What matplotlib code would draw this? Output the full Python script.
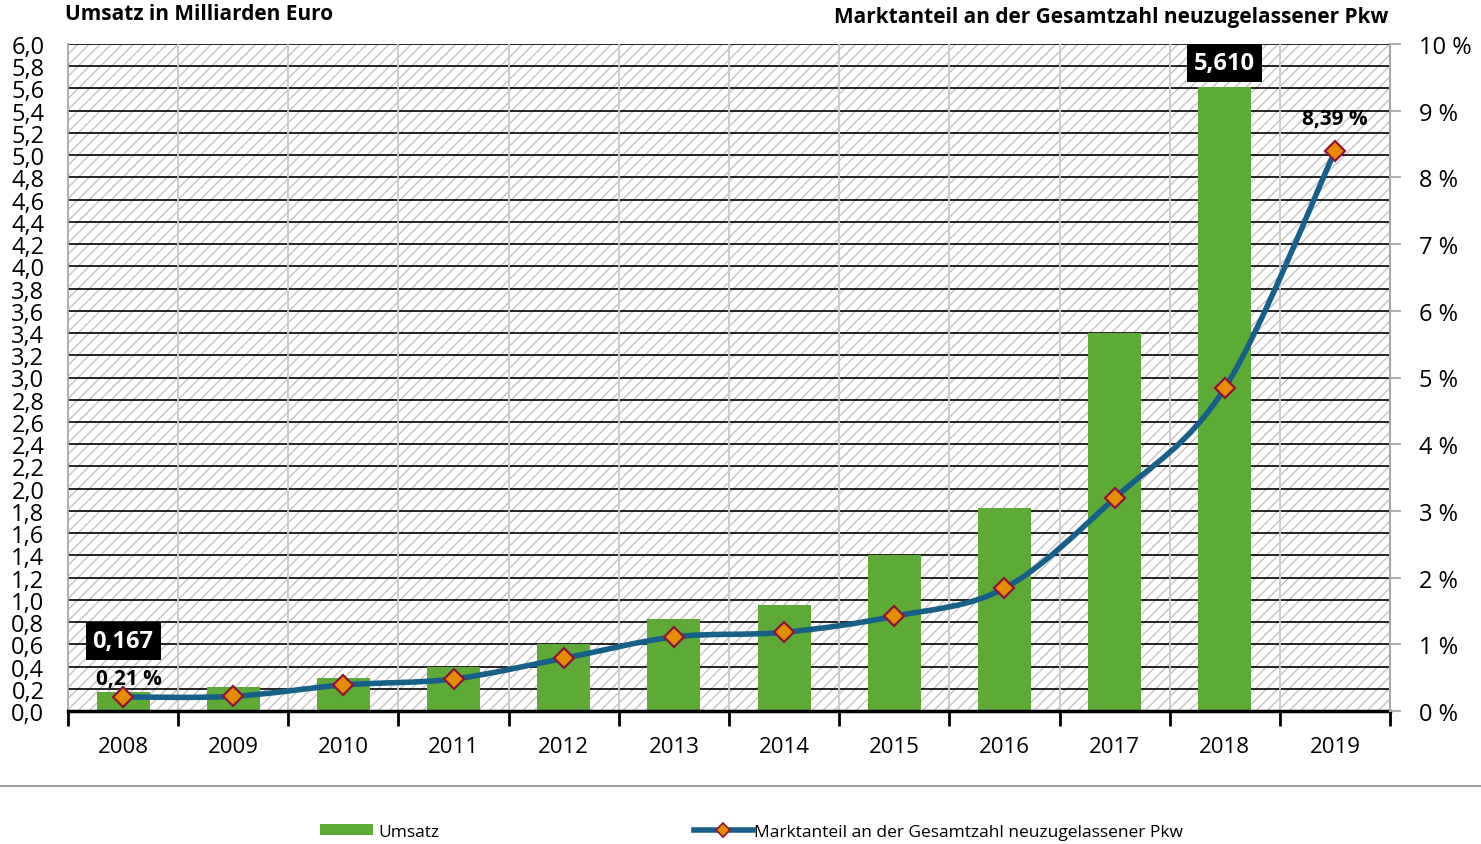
import numpy as np
import matplotlib.pyplot as plt
from matplotlib.patches import Rectangle, Patch
from matplotlib.path import Path
from matplotlib.patches import PathPatch
from matplotlib.lines import Line2D

# Umsatz (Mrd. Euro) and Marktanteil (%) per year
years = ['2008', '2009', '2010', '2011', '2012', '2013', '2014', '2015',
         '2016', '2017', '2018', '2019']
umsatz = [0.167, 0.22, 0.30, 0.40, 0.60, 0.83, 0.95, 1.40, 1.83, 3.40, 5.61, np.nan]
anteil = [0.21, 0.22, 0.39, 0.48, 0.79, 1.11, 1.18, 1.42, 1.84, 3.19, 4.84, 8.39]
left_ticks = np.arange(0, 6.01, 0.2)
right_ticks = np.arange(0, 11, 1)

plt.rcParams['font.family'] = ['Open Sans', 'DejaVu Sans']
plt.rcParams['hatch.linewidth'] = 1.0

GREEN = '#5dab36'
BLUE = '#17608a'
ORANGE = '#e58c00'
DARKRED = '#8e1538'


def smooth_path(xs, ys):
    # cubic bezier through points (like a spreadsheet "smoothed line")
    pts = np.column_stack([xs, ys])
    verts = [pts[0]]
    codes = [Path.MOVETO]
    n = len(pts)
    for i in range(n - 1):
        p0 = pts[i - 1] if i > 0 else pts[i]
        p1 = pts[i]
        p2 = pts[i + 1]
        p3 = pts[i + 2] if i + 2 < n else pts[i + 1]
        c1 = p1 + (p2 - p0) / 6.0
        c2 = p2 - (p3 - p1) / 6.0
        verts += [c1, c2, p2]
        codes += [Path.CURVE4] * 3
    return Path(verts, codes)


fig = plt.figure(figsize=(14.81, 8.45), dpi=100)
ax = fig.add_axes([68 / 1481, 133 / 845, 1322 / 1481, 667 / 845])
x = np.arange(len(years))

# hatched background
ax.add_patch(Rectangle((0, 0), 1, 1, transform=ax.transAxes, facecolor='white',
                       edgecolor='#c4c4c4', hatch='///', lw=0, zorder=0))

ax.set_xlim(-0.5, len(years) - 0.5)
ax.set_ylim(0, 6.0)

for yv in left_ticks[1:]:
    ax.axhline(yv, color='black', lw=1.2, zorder=1)
for xv in np.arange(0.5, len(years) - 0.5, 1):
    ax.axvline(xv, color='#c8c8c8', lw=1.3, zorder=1)

ax.bar(x, umsatz, width=0.48, color=GREEN, zorder=2)

ax.set_yticks(left_ticks)
ax.set_yticklabels([f'{v:.1f}'.replace('.', ',') for v in left_ticks], fontsize=17)
ax.tick_params(axis='y', length=0, pad=17)
ax.set_xticks(np.arange(-0.5, len(years), 1))
ax.set_xticklabels([])
ax.set_xticks(x, minor=True)
ax.set_xticklabels(years, minor=True, fontsize=16)
ax.tick_params(axis='x', which='major', length=11, width=2, color='black', direction='out')
ax.tick_params(axis='x', which='minor', length=0, pad=18)

for s in ['left', 'right', 'top']:
    ax.spines[s].set_color('#a8a8a8')
    ax.spines[s].set_linewidth(1.3)
ax.spines['top'].set_visible(False)
ax.spines['bottom'].set_color('black')
ax.spines['bottom'].set_linewidth(2.5)

ax2 = ax.twinx()
ax2.set_ylim(0, 10)
ax2.set_yticks(right_ticks)
ax2.set_yticklabels([f'{v} %' for v in right_ticks], fontsize=17)
ax2.tick_params(axis='y', length=8, width=1.3, color='#a8a8a8', pad=13)
for s in ['left', 'top', 'bottom']:
    ax2.spines[s].set_visible(False)
ax2.spines['right'].set_color('#a8a8a8')
ax2.spines['right'].set_linewidth(1.5)

ax2.add_patch(PathPatch(smooth_path(x, anteil), facecolor='none', edgecolor=BLUE,
                        lw=4, capstyle='round', joinstyle='round', zorder=3))
ax2.plot(x, anteil, ls='none', marker='D', ms=10, mfc=ORANGE, mec=DARKRED,
         mew=1.6, zorder=4)

# labels
ax.text(x[0], 0.63, '0,167', ha='center', va='center', color='white',
        fontsize=17, fontweight='bold',
        bbox=dict(boxstyle='square,pad=0.3', fc='black', ec='none'), zorder=5)
ax.text(x[10], 5.83, '5,610', ha='center', va='center', color='white',
        fontsize=17, fontweight='bold',
        bbox=dict(boxstyle='square,pad=0.3', fc='black', ec='none'), zorder=5)
ax2.text(x[0] + 0.05, 0.48, '0,21 %', ha='center', va='center',
         fontsize=15, fontweight='bold', zorder=5)
ax2.text(x[11], 8.89, '8,39 %', ha='center', va='center',
         fontsize=15, fontweight='bold', zorder=5)

fig.text(65 / 1481, 1 - 15 / 845, 'Umsatz in Milliarden Euro', ha='left', va='center',
         fontsize=15, fontweight='bold')
fig.text(1388 / 1481, 1 - 17 / 845, 'Marktanteil an der Gesamtzahl neuzugelassener Pkw',
         ha='right', va='center', fontsize=15, fontweight='bold')

# separator line
fig.add_artist(Line2D([0, 1], [1 - 787 / 845] * 2, color='#8c8c8c', lw=1.2))

h_bar = Patch(facecolor=GREEN, edgecolor='none')
h_line = Line2D([], [], color=BLUE, lw=4, marker='D', ms=7, mfc=ORANGE,
                mec=DARKRED, mew=1.2)
fig.legend([h_bar], ['Umsatz'], loc='center left',
           bbox_to_anchor=(304 / 1481, 1 - 833 / 845), frameon=False,
           fontsize=12.5, handlelength=3.1, handletextpad=0.3, handleheight=0.6)
fig.legend([h_line], ['Marktanteil an der Gesamtzahl neuzugelassener Pkw'],
           loc='center left', bbox_to_anchor=(678 / 1481, 1 - 833 / 845), frameon=False,
           fontsize=12.5, handlelength=3.4, handletextpad=0.05)

fig.savefig('out.png', dpi=100)
